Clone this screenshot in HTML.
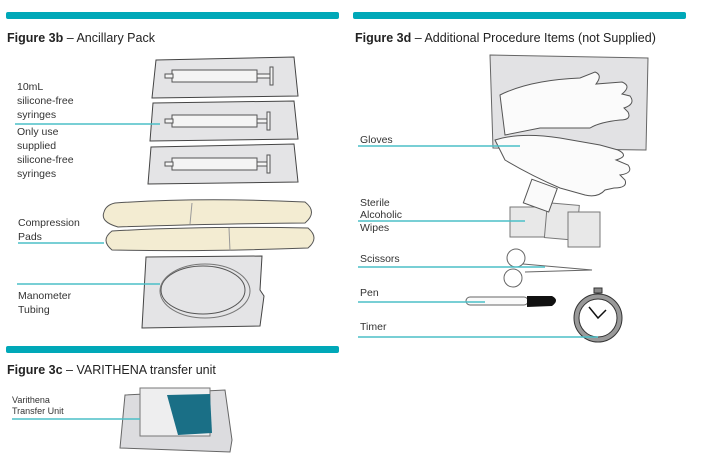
<!DOCTYPE html>
<html><head><style>
body{margin:0;background:#fff;width:727px;height:466px;overflow:hidden}
svg{display:block}
text{font-family:"Liberation Sans",Arial,sans-serif;fill:#222}
.t{font-size:12.5px}
.l{font-size:10.5px;fill:#333}
.s{font-size:9px;fill:#333}
.ln{stroke:#4bbfc7;stroke-width:1.5}
.pk{fill:#e4e4e6;stroke:#444;stroke-width:1}
.sy{fill:#f4f4f4;stroke:#555;stroke-width:1}
.gl{fill:#fbfbfb;stroke:#555;stroke-width:1}
</style></head><body>
<svg width="727" height="466" viewBox="0 0 727 466">
<rect x="6" y="12" width="333" height="7" rx="2" fill="#00a8b8"/>
<rect x="353" y="12" width="333" height="7" rx="2" fill="#00a8b8"/>
<rect x="6" y="346" width="333" height="7" rx="2" fill="#00a8b8"/>
<text x="7" y="42" class="t"><tspan font-weight="bold">Figure 3b</tspan> – Ancillary Pack</text>
<text x="355" y="42" class="t"><tspan font-weight="bold">Figure 3d</tspan> – Additional Procedure Items (not Supplied)</text>
<text x="7" y="374" class="t"><tspan font-weight="bold">Figure 3c</tspan> – VARITHENA transfer unit</text>

<g>
<path class="pk" d="M156 60 L294 57 L298 96 L152 98 Z"/>
<rect class="sy" x="172" y="70" width="85" height="12"/><rect class="sy" x="165" y="74" width="8" height="4"/><rect class="sy" x="257" y="74" width="15" height="4"/><rect class="sy" x="270" y="67" width="3" height="18"/>
<path class="pk" d="M153 103 L294 101 L298 139 L150 141 Z"/>
<rect class="sy" x="172" y="115" width="85" height="12"/><rect class="sy" x="165" y="119" width="8" height="4"/><rect class="sy" x="257" y="119" width="12" height="4"/><rect class="sy" x="267" y="112" width="3" height="18"/>
<path class="pk" d="M151 147 L294 144 L298 182 L148 184 Z"/>
<rect class="sy" x="172" y="158" width="85" height="12"/><rect class="sy" x="165" y="162" width="8" height="4"/><rect class="sy" x="257" y="162" width="12" height="4"/><rect class="sy" x="267" y="155" width="3" height="18"/>
</g>
<text class="l" x="17" y="90">10mL</text>
<text class="l" x="17" y="104">silicone-free</text>
<text class="l" x="17" y="118">syringes</text>
<text class="l" x="17" y="135">Only use</text>
<text class="l" x="17" y="149">supplied</text>
<text class="l" x="17" y="163">silicone-free</text>
<text class="l" x="17" y="177">syringes</text>
<line class="ln" x1="15" y1="124" x2="160" y2="124"/>

<path d="M115 203 Q200 197 305 202 Q318 212 305 223 Q200 224 118 227 Q100 222 104 212 Q106 205 115 203 Z" fill="#f3ecd2" stroke="#555"/>
<line x1="192" y1="203" x2="190" y2="224" stroke="#999"/>
<path d="M112 231 Q200 226 308 228 Q320 238 308 248 Q200 252 112 250 Q100 240 112 231 Z" fill="#f3ecd2" stroke="#555"/>
<line x1="229" y1="228" x2="230" y2="251" stroke="#999"/>
<text class="l" x="18" y="226">Compression</text>
<text class="l" x="18" y="240">Pads</text>
<line class="ln" x1="18" y1="243" x2="104" y2="243"/>

<path class="pk" d="M146 257 L262 256 L260 290 L264 296 L260 326 L142 328 Z"/>
<ellipse cx="203" cy="290" rx="42" ry="24" fill="none" stroke="#555"/>
<ellipse cx="205" cy="291" rx="45" ry="27" fill="none" stroke="#777"/>
<text class="l" x="18" y="299">Manometer</text>
<text class="l" x="18" y="313">Tubing</text>
<line class="ln" x1="17" y1="284" x2="160" y2="284"/>

<path d="M125 395 L225 390 L232 440 L230 452 L120 448 Z" fill="#dcdcdf" stroke="#666"/>
<rect x="140" y="388" width="70" height="48" fill="#eeeeef" stroke="#777"/>
<path d="M167 395 L210 394 L212 433 L178 435 Z" fill="#1a6f86"/>
<text class="s" x="12" y="403">Varithena</text>
<text class="s" x="12" y="414">Transfer Unit</text>
<line class="ln" x1="12" y1="419" x2="140" y2="419"/>

<path d="M490 55 L648 58 L646 150 L493 148 Z" fill="#e2e2e4" stroke="#666"/>
<path class="gl" d="M500 95 Q530 80 580 78 L595 72 Q603 75 596 84 L622 82 Q632 86 622 94 L630 96 Q636 104 624 108 L628 112 Q632 120 620 120 Q600 122 590 128 L540 128 L505 135 Z"/>
<path class="gl" d="M495 140 Q520 132 560 138 L600 145 L618 150 Q630 156 616 160 L628 165 Q634 173 620 175 L625 180 Q628 188 614 188 L605 190 Q598 198 585 195 L560 188 Q530 175 505 160 Z"/>
<text class="l" x="360" y="143">Gloves</text>
<line class="ln" x1="358" y1="146" x2="520" y2="146"/>

<rect x="510" y="207" width="38" height="30" fill="#e8e8e8" stroke="#777"/>
<rect x="546" y="204" width="32" height="35" fill="#e8e8e8" stroke="#777" transform="rotate(5 562 220)"/>
<rect x="568" y="212" width="32" height="35" fill="#e8e8e8" stroke="#777"/>
<rect x="527" y="183" width="27" height="25" fill="#fafafa" stroke="#555" transform="rotate(20 540 195)"/>
<text class="l" x="360" y="206">Sterile</text>
<text class="l" x="360" y="218">Alcoholic</text>
<text class="l" x="360" y="231">Wipes</text>
<line class="ln" x1="358" y1="221" x2="525" y2="221"/>

<circle cx="516" cy="258" r="9" fill="none" stroke="#666"/>
<circle cx="513" cy="278" r="9" fill="none" stroke="#666"/>
<path d="M523 264 L592 270 L525 272" fill="none" stroke="#666"/>
<text class="l" x="360" y="262">Scissors</text>
<line class="ln" x1="358" y1="267" x2="545" y2="267"/>

<rect x="466" y="297" width="62" height="8" rx="4" fill="#fafafa" stroke="#666"/>
<path d="M527 296 L552 296 Q560 300 552 306 L527 307 Z" fill="#111"/>
<text class="l" x="360" y="296">Pen</text>
<line class="ln" x1="358" y1="302" x2="485" y2="302"/>

<rect x="594" y="288" width="8" height="5" fill="#888" stroke="#333"/>
<circle cx="598" cy="318" r="24" fill="#999" stroke="#333"/>
<circle cx="598" cy="318" r="19" fill="#fff" stroke="#333"/>
<path d="M589 307 L598 318 L606 310" fill="none" stroke="#111" stroke-width="1.5"/>
<text class="l" x="360" y="330">Timer</text>
<line class="ln" x1="358" y1="337" x2="598" y2="337"/>
</svg>
</body></html>
